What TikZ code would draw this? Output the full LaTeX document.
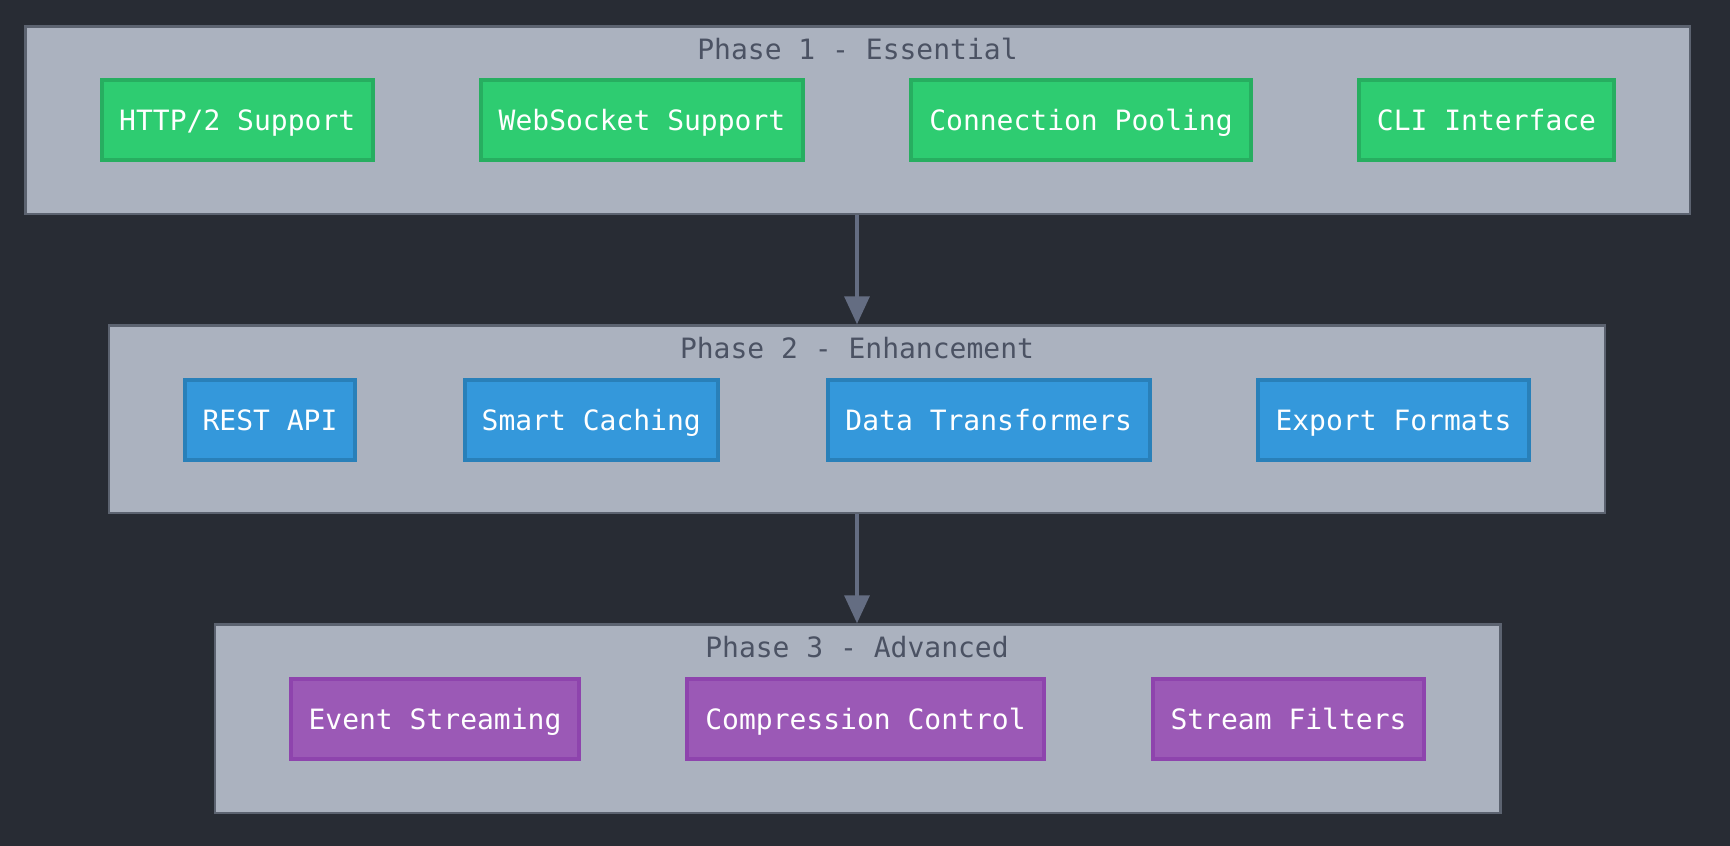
\documentclass[tikz,border=0pt]{standalone}
\usepackage{fontspec}
\setmonofont{DejaVu Sans Mono}
\usetikzlibrary{arrows.meta}
\definecolor{bgc}{HTML}{282C34}
\definecolor{phasefill}{HTML}{ABB2BF}
\definecolor{phaseline}{HTML}{5C6370}
\definecolor{titlec}{HTML}{4B5263}
\definecolor{arrowc}{HTML}{646D82}
\definecolor{gfill}{HTML}{2ECC71}
\definecolor{gline}{HTML}{27AE60}
\definecolor{bfill}{HTML}{3498DB}
\definecolor{bline}{HTML}{2980B9}
\definecolor{pfill}{HTML}{9B59B6}
\definecolor{pline}{HTML}{8E44AD}
\tikzset{
  phasebox/.style={draw=phaseline, fill=phasefill, line width=2.5pt, inner sep=0pt},
  phasetitle/.style={text=titlec, font=\ttfamily\fontsize{28}{34}\selectfont, inner sep=0pt, anchor=base},
  feat/.style={line width=4pt, inner sep=0pt, text=white, text height=24pt, text depth=3pt,
    font=\ttfamily\fontsize{28}{34}\selectfont},
  gfeat/.style={feat, draw=gline, fill=gfill},
  bfeat/.style={feat, draw=bline, fill=bfill},
  pfeat/.style={feat, draw=pline, fill=pfill},
  flow/.style={draw=arrowc, line width=3.5pt, -{Triangle[width=25pt,length=28pt]}},
}
\newcommand{\boxat}[7]{% style, name, x1, y1, x2, y2, text
  \node[#1, minimum width={#5-#3}, minimum height={#6-#4}] (#2) at ({(#3+#5)/2},{(#4+#6)/2}) {#7};}
\begin{document}
\begin{tikzpicture}[x=1pt,y=-1pt]
\fill[bgc] (0,0) rectangle (1730,846);
\useasboundingbox (0,0) rectangle (1730,846);
% Phase 1
\boxat{phasebox}{p1}{25.5}{26.5}{1690}{214}{}
\node[phasetitle] (t1) at (857.5,59.5) {Phase 1 - Essential};
\boxat{gfeat}{n11}{101.5}{79.5}{373}{160}{HTTP/2 Support}
\boxat{gfeat}{n12}{481}{79.5}{803}{160}{WebSocket Support}
\boxat{gfeat}{n13}{911}{79.5}{1251}{160}{Connection Pooling}
\boxat{gfeat}{n14}{1359}{79.5}{1614}{160}{CLI Interface}
% Phase 2
\boxat{phasebox}{p2}{109}{325.5}{1605}{513}{}
\node[phasetitle] (t2) at (857,358.5) {Phase 2 - Enhancement};
\boxat{bfeat}{n21}{185}{379.5}{355}{460}{REST API}
\boxat{bfeat}{n22}{464.5}{379.5}{718}{460}{Smart Caching}
\boxat{bfeat}{n23}{827.5}{379.5}{1150}{460}{Data Transformers}
\boxat{bfeat}{n24}{1258}{379.5}{1529}{460}{Export Formats}
% Phase 3
\boxat{phasebox}{p3}{215}{624.5}{1500.5}{813}{}
\node[phasetitle] (t3) at (857,657.5) {Phase 3 - Advanced};
\boxat{pfeat}{n31}{291}{678.5}{579}{759}{Event Streaming}
\boxat{pfeat}{n32}{687}{678.5}{1044}{759}{Compression Control}
\boxat{pfeat}{n33}{1153}{678.5}{1424}{759}{Stream Filters}
% arrows
\draw[flow] (p1.south -| p2.north) -- (p2.north);
\draw[flow] (p2.south) -- (p3.north -| p2.south);
\end{tikzpicture}
\end{document}
